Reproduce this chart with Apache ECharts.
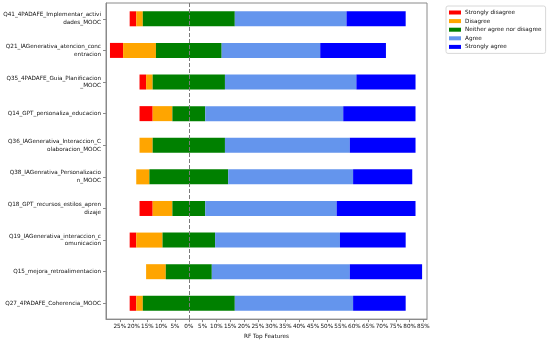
<!DOCTYPE html>
<html>
<head>
<meta charset="utf-8">
<script src="https://cdn.jsdelivr.net/npm/echarts@6/dist/echarts.min.js"></script>
<style>html,body{margin:0;padding:0;background:#fff}#c{width:550px;height:345px}</style>
</head>
<body>
<div id="c"></div>
<script>
var categories = [
  "Q41_4PADAFE_Implementar_activi\ndades_MOOC",
  "Q21_IAGenerativa_atencion_conc\nentracion",
  "Q35_4PADAFE_Guia_Planificacion\n_MOOC",
  "Q14_GPT_personaliza_educacion",
  "Q36_IAGenerativa_Interaccion_C\nolaboracion_MOOC",
  "Q38_IAGenrativa_Personalizacio\nn_MOOC",
  "Q18_GPT_recursos_estilos_apren\ndizaje",
  "Q19_IAGenerativa_interaccion_c\nomunicacion",
  "Q15_mejora_retroalimentacion",
  "Q27_4PADAFE_Coherencia_MOOC"
];
var strongly_disagree = [2.38, 4.76, 2.38, 4.76, 0, 0, 4.76, 2.38, 0, 2.38];
var disagree          = [2.38, 11.90, 2.38, 7.14, 4.76, 4.76, 7.14, 9.52, 7.14, 2.38];
var neutral           = [33.33, 23.81, 26.19, 11.90, 26.19, 28.57, 11.90, 19.05, 16.67, 33.33];
var agree             = [40.48, 35.71, 47.62, 50.00, 45.24, 45.24, 47.62, 45.24, 50.00, 42.86];
var strongly_agree    = [21.43, 23.81, 21.43, 26.19, 23.81, 21.43, 28.57, 23.81, 26.19, 19.05];
var seriesNames = ["Strongly disagree", "Disagree", "Neither agree nor disagree", "Agree", "Strongly agree"];
var colors = ["#ff0000", "#ffa500", "#008000", "#6495ed", "#0000ff"];
var xTicks = { min: -30, max: 86.3, interval: 5 };

var offsets = categories.map(function (_, i) {
  return -(strongly_disagree[i] + disagree[i] + neutral[i] / 2);
});
var valueSets = [strongly_disagree, disagree, neutral, agree, strongly_agree];
var FONT = "DejaVu Sans";
var FS = 5.7;

var series = [{
  name: "_offset",
  type: "bar",
  stack: "s",
  stackStrategy: "all",
  data: offsets,
  barWidth: 15,
  itemStyle: { color: "rgba(0,0,0,0)" },
  silent: true,
  markLine: {
    symbol: "none",
    silent: true,
    z: 10,
    label: { show: false },
    lineStyle: { color: "#7a7a7a", type: "dashed", dashOffset: 0, width: 1 },
    data: [{ xAxis: 0 }]
  }
}];
valueSets.forEach(function (vals, k) {
  series.push({
    name: seriesNames[k],
    type: "bar",
    stack: "s",
    stackStrategy: "all",
    barWidth: 15,
    data: vals,
    itemStyle: { color: colors[k] }
  });
});

var chart = echarts.init(document.getElementById("c"), null, { renderer: "canvas" });
chart.setOption({
  animation: false,
  backgroundColor: "#fff",
  textStyle: { fontFamily: FONT },
  grid: { left: 106, right: 123, top: 3, bottom: 23, show: true, borderColor: "#8a8a8a", borderWidth: 1, backgroundColor: "transparent" },
  legend: {
    data: seriesNames,
    orient: "vertical",
    left: 446,
    top: 6,
    icon: "rect",
    itemWidth: 12,
    itemHeight: 4,
    itemGap: 1.6,
    padding: [3, 4, 3, 3],
    borderColor: "#d8d8d8",
    borderWidth: 1,
    borderRadius: 2,
    textStyle: { fontFamily: FONT, fontSize: FS, color: "#111", lineHeight: 7, padding: [0, 0, 0, -1] }
  },
  xAxis: {
    type: "value",
    min: xTicks.min,
    max: xTicks.max,
    interval: xTicks.interval,
    name: "RF Top Features",
    nameLocation: "middle",
    nameGap: 14,
    nameTextStyle: { fontFamily: FONT, fontSize: FS, color: "#111" },
    splitLine: { show: false },
    axisLine: { show: true, onZero: false, lineStyle: { color: "#8a8a8a" } },
    axisTick: { show: true, length: 3, lineStyle: { color: "#8a8a8a" } },
    axisLabel: {
      fontFamily: FONT, fontSize: FS, color: "#111", margin: 4,
      showMinLabel: false, showMaxLabel: false,
      formatter: function (v) {
        if (v <= -30 || v > 85) return "";
        return Math.abs(Math.round(v)) + "%";
      }
    }
  },
  yAxis: {
    type: "category",
    data: categories,
    inverse: true,
    axisLine: { show: true, onZero: false, lineStyle: { color: "#8a8a8a" } },
    axisTick: { show: true, length: 3, alignWithLabel: true, lineStyle: { color: "#8a8a8a" } },
    axisLabel: { fontFamily: FONT, fontSize: FS, color: "#111", margin: 5, lineHeight: 7.7, align: "right" },
    splitLine: { show: false }
  },
  series: series
});
</script>
</body>
</html>
